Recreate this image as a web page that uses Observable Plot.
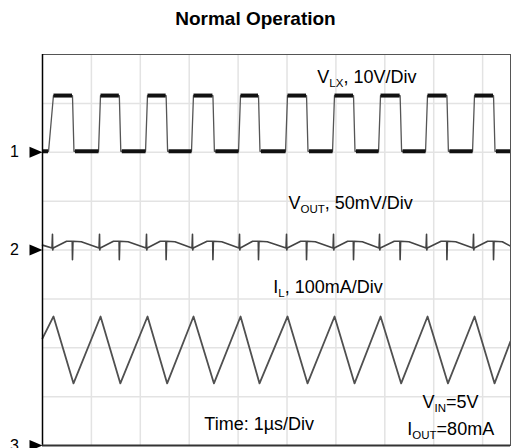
<!DOCTYPE html>
<html><head><meta charset="utf-8">
<script src="https://cdn.jsdelivr.net/npm/d3@7"></script>
<script src="https://cdn.jsdelivr.net/npm/@observablehq/plot@0.6"></script>
<style>
body{margin:0;background:#fff;font-family:"Liberation Sans",Arial,sans-serif;}
#title{height:40px;line-height:38px;text-align:center;font-weight:bold;font-size:19px;color:#000;}
</style></head><body>
<div id="title">Normal Operation</div>
<div id="chart"></div>
<script>
// ---- data (time in µs, one division = 1 µs) ----
const riseTimes = [0.204, 1.166, 2.127, 3.067, 4.029, 4.990, 5.951, 6.892, 7.853, 8.814];
const fallTimes = [0.613, 1.571, 2.528, 3.485, 4.417, 5.399, 6.360, 7.313, 8.270, 9.223];
const timeEnd = 9.57;
// channel 1: V_LX, 10 V/div
const vlxHigh = 11.6, vlxLow = 0.2;
// channel 2: V_OUT ripple, 50 mV/div (mV about the channel reference)
const voutTrough = 2, voutPeak = 9, voutSpikeUp = 16, voutSpikeLow = 0, voutSpikeDown = -10;
// channel 3: I_L, 100 mA/div
const ilPeakTimes = [0.225, 1.187, 2.148, 3.088, 4.050, 5.011, 5.972, 6.913, 7.874, 8.835];
const ilValleyTimes = [0.634, 1.592, 2.549, 3.506, 4.438, 5.420, 6.381, 7.334, 8.291, 9.244];
const ilPeak = 264, ilValley = 127, ilStart = 219, ilEnd = 213;
// channel reference levels (divisions from bottom) and names
const channelNames = ["1", "2", "3"];
const channelRefs = [6, 4, 0];
const voltsPerDiv = [10, 50, 100];
const gridX = [1, 2, 3, 4, 5, 6, 7, 8, 9];
const gridY = [1, 2, 3, 4, 5, 6, 7];
const labels = [
  {t: 5.62, d: 7.42, s: "V_{LX}, 10V/Div"},
  {t: 5.03, d: 4.83, s: "V_{OUT}, 50mV/Div"},
  {t: 4.72, d: 3.11, s: "I_{L}, 100mA/Div"},
  {t: 3.31, d: 0.31, s: "Time: 1µs/Div"},
  {t: 7.77, d: 0.76, s: "V_{IN}=5V"},
  {t: 7.46, d: 0.22, s: "I_{OUT}=80mA"}
];

// ---- build traces in divisions ----
const toDiv = (ch, v) => channelRefs[ch] + v / voltsPerDiv[ch];

// V_LX square wave
const vlx = [{t: 0, y: toDiv(0, vlxLow)}];
const vlxBars = [{t1: 0, t2: riseTimes[0] - 0.09, y: toDiv(0, vlxLow)}];
riseTimes.forEach((r, i) => {
  const f = fallTimes[i];
  const pre = i === 0 ? 0.08 : 0.02;
  vlx.push({t: r - pre, y: toDiv(0, vlxLow)}, {t: r + 0.02, y: toDiv(0, vlxHigh)});
  vlx.push({t: f, y: toDiv(0, vlxHigh)}, {t: f + 0.03, y: toDiv(0, vlxLow)});
  vlxBars.push({t1: r + 0.02, t2: f - 0.01, y: toDiv(0, vlxHigh)});
  const next = i + 1 < riseTimes.length ? riseTimes[i + 1] - 0.02 : timeEnd;
  vlxBars.push({t1: f + 0.05, t2: next, y: toDiv(0, vlxLow)});
});
vlx.push({t: timeEnd, y: toDiv(0, vlxLow)});

// V_OUT ripple with switching spikes
const vout = [{t: 0, y: toDiv(1, 5)}];
riseTimes.forEach((r, i) => {
  const f = fallTimes[i];
  vout.push({t: r - 0.01, y: toDiv(1, voutTrough)}, {t: r, y: toDiv(1, voutSpikeUp)},
            {t: r + 0.005, y: toDiv(1, voutSpikeLow)}, {t: r + 0.015, y: toDiv(1, voutTrough)});
  vout.push({t: f - 0.12, y: toDiv(1, voutPeak)}, {t: f - 0.005, y: toDiv(1, voutPeak)},
            {t: f, y: toDiv(1, voutSpikeDown)}, {t: f + 0.01, y: toDiv(1, voutPeak)},
            {t: f + 0.18, y: toDiv(1, voutPeak - 0.5)});
});
vout.push({t: timeEnd, y: toDiv(1, 4)});

// I_L triangle
const il = [{t: 0, y: toDiv(2, ilStart)}];
ilPeakTimes.forEach((p, i) => {
  il.push({t: p, y: toDiv(2, ilPeak)}, {t: ilValleyTimes[i], y: toDiv(2, ilValley)});
});
il.push({t: timeEnd, y: toDiv(2, ilEnd)});

const markers = channelNames.map((n, i) => ({name: n, y: channelRefs[i]}));
const rightTriangle = {draw(ctx) { ctx.moveTo(0, 0); ctx.lineTo(-13, -5.5); ctx.lineTo(-13, 5.5); ctx.closePath(); }};

const plot = Plot.plot({
  width: 511, height: 408,
  marginTop: 14, marginBottom: 3, marginLeft: 42, marginRight: 1,
  x: {domain: [0, timeEnd], axis: null},
  y: {domain: [0, 8], axis: null},
  style: {fontFamily: "'Liberation Sans', Arial, sans-serif", background: "#fff", overflow: "visible"},
  marks: [
    Plot.ruleX(gridX, {stroke: "#e3e3e3", strokeWidth: 1.5}),
    Plot.ruleY(gridY, {stroke: "#e3e3e3", strokeWidth: 1.5}),
    Plot.line(vlx, {x: "t", y: "y", stroke: "#555", strokeWidth: 1.3}),
    Plot.link(vlxBars, {x1: "t1", x2: "t2", y1: "y", y2: "y", stroke: "#111", strokeWidth: 4}),
    Plot.line(vout, {x: "t", y: "y", stroke: "#444", strokeWidth: 1.6}),
    Plot.line(il, {x: "t", y: "y", stroke: "#505050", strokeWidth: 1.8}),
    Plot.frame({stroke: "#555", strokeWidth: 1}),
    Plot.ruleX([0], {stroke: "#000", strokeWidth: 1.5}),
    Plot.ruleY([0], {stroke: "#333", strokeWidth: 2}),
    Plot.dot(markers, {x: () => 0, y: "y", symbol: rightTriangle, fill: "#000", stroke: null, r: 6}),
    Plot.text(markers, {x: () => 0, y: "y", text: "name", dx: -28, fontSize: 16, fill: "#000"}),
    Plot.text(labels, {x: "t", y: "d", text: "s", textAnchor: "start", lineAnchor: "bottom", fontSize: 18, fill: "#000"})
  ]
});
document.getElementById("chart").appendChild(plot);

// subscripts
const ns = "http://www.w3.org/2000/svg";
plot.querySelectorAll("text").forEach(t => {
  const s = t.textContent;
  if (!s.includes("_{")) return;
  t.textContent = "";
  s.split(/_\{([^}]*)\}/).forEach((p, i) => {
    const ts = document.createElementNS(ns, "tspan");
    ts.textContent = p;
    if (i % 2 === 1) { ts.setAttribute("font-size", "11.5"); ts.setAttribute("dy", "4"); }
    else if (i > 0) { ts.setAttribute("dy", "-4"); }
    t.appendChild(ts);
  });
});
</script>
</body></html>
